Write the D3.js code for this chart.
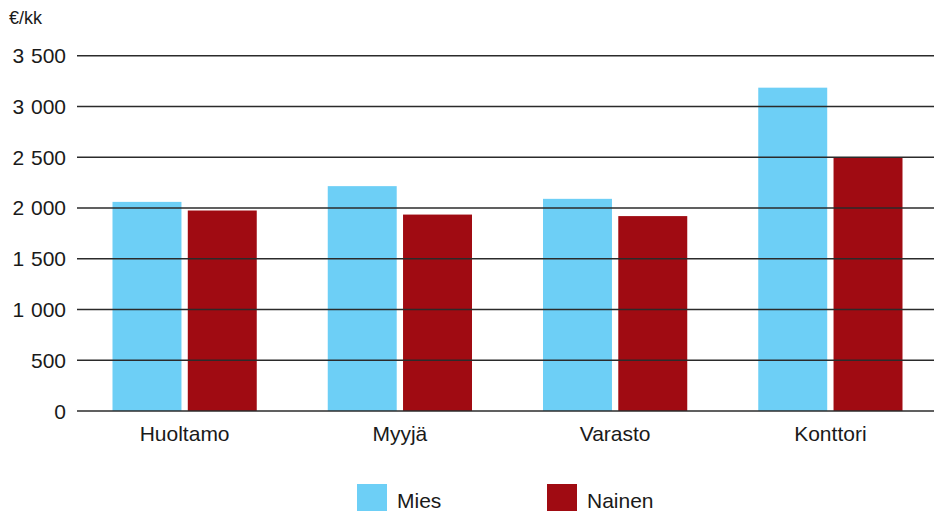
<!DOCTYPE html>
<html>
<head>
<meta charset="utf-8">
<script src="https://cdn.jsdelivr.net/npm/d3@7"></script>
<style>
  body { margin: 0; background: #fff; }
  text { font-family: 'Liberation Sans', Arial, sans-serif; fill: #1a1a1a; }
</style>
</head>
<body>
<div id="chart"></div>
<script>
// data
const categories = ['Huoltamo', 'Myyjä', 'Varasto', 'Konttori']
const seriesNames = ['Mies', 'Nainen']
const mies = [2060, 2215, 2090, 3185]
const nainen = [1975, 1935, 1920, 2500]
const yTicks = [0, 500, 1000, 1500, 2000, 2500, 3000, 3500]
const yTickLabels = ['0', '500', '1 000', '1 500', '2 000', '2 500', '3 000', '3 500']
const unitLabel = '€/kk'

const colors = ['#6dcff6', '#a00b12']

function graph(id) {
  const width = 934
  const height = 511

  const svg = d3
    .select(id)
    .append('svg')
    .attr('width', width)
    .attr('height', height)

  const xScale = d3.scaleBand().domain(categories).range([77, 938])
  const xInner = d3
    .scaleBand()
    .domain(seriesNames)
    .range([35.5, xScale.bandwidth() - 35.5])
    .paddingInner(0.084)

  const yScale = d3.scaleLinear().domain([0, 3500]).range([411, 55.7])

  // y labels
  svg
    .append('g')
    .selectAll('text')
    .data(yTicks)
    .enter()
    .append('text')
    .attr('x', 66)
    .attr('y', (d) => yScale(d) + 7.5)
    .attr('text-anchor', 'end')
    .style('font-size', '21px')
    .style('word-spacing', '1px')
    .text((d, i) => yTickLabels[i])

  svg
    .append('text')
    .attr('x', 9)
    .attr('y', 24)
    .style('font-size', '18px')
    .text(unitLabel)

  // bars
  const values = [mies, nainen]
  const groups = svg
    .append('g')
    .selectAll('g')
    .data(categories)
    .enter()
    .append('g')
    .attr('transform', (d) => `translate(${xScale(d)},0)`)

  groups
    .selectAll('rect')
    .data((d, i) => seriesNames.map((s, j) => ({ s: s, v: values[j][i], j: j })))
    .enter()
    .append('rect')
    .attr('x', (d) => xInner(d.s))
    .attr('width', xInner.bandwidth())
    .attr('y', (d) => yScale(d.v))
    .attr('height', (d) => yScale(0) - yScale(d.v))
    .attr('fill', (d) => colors[d.j])

  // grid lines drawn over the bars
  svg
    .append('g')
    .selectAll('line')
    .data(yTicks)
    .enter()
    .append('line')
    .attr('x1', 77)
    .attr('x2', width)
    .attr('y1', (d) => yScale(d))
    .attr('y2', (d) => yScale(d))
    .attr('stroke', '#2b2b2b')
    .attr('stroke-width', 1.5)

  // category labels
  svg
    .append('g')
    .selectAll('text')
    .data(categories)
    .enter()
    .append('text')
    .attr('x', (d) => xScale(d) + xScale.bandwidth() / 2)
    .attr('y', 441)
    .attr('text-anchor', 'middle')
    .style('font-size', '21px')
    .text((d) => d)

  // legend
  const legendX = [357, 547]
  const legend = svg
    .append('g')
    .selectAll('g')
    .data(seriesNames)
    .enter()
    .append('g')
    .attr('transform', (d, i) => `translate(${legendX[i]},484)`)

  legend
    .append('rect')
    .attr('width', 30)
    .attr('height', 30)
    .attr('fill', (d, i) => colors[i])

  legend
    .append('text')
    .attr('x', 40)
    .attr('y', 24)
    .style('font-size', '21px')
    .text((d) => d)
}

graph('#chart')
</script>
</body>
</html>
